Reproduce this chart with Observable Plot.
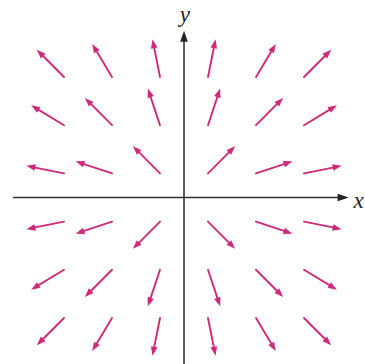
<!DOCTYPE html>
<html>
<head>
<meta charset="utf-8">
<script src="https://cdn.jsdelivr.net/npm/d3@7"></script>
<script src="https://cdn.jsdelivr.net/npm/@observablehq/plot@0.6"></script>
<style>
  html, body { margin: 0; padding: 0; background: #fff; }
  #chart svg { display: block; }
</style>
</head>
<body>
<div id="chart"></div>
<script>
// Tail positions of the arrows (data units)
const tailX = [
  -2.5, -1.5, -0.5, 0.5, 1.5, 2.5,
  -2.5, -1.5, -0.5, 0.5, 1.5, 2.5,
  -2.5, -1.5, -0.5, 0.5, 1.5, 2.5,
  -2.5, -1.5, -0.5, 0.5, 1.5, 2.5,
  -2.5, -1.5, -0.5, 0.5, 1.5, 2.5,
  -2.5, -1.5, -0.5, 0.5, 1.5, 2.5
];
const tailY = [
  2.5, 2.5, 2.5, 2.5, 2.5, 2.5,
  1.5, 1.5, 1.5, 1.5, 1.5, 1.5,
  0.5, 0.5, 0.5, 0.5, 0.5, 0.5,
  -0.5, -0.5, -0.5, -0.5, -0.5, -0.5,
  -1.5, -1.5, -1.5, -1.5, -1.5, -1.5,
  -2.5, -2.5, -2.5, -2.5, -2.5, -2.5
];
// Vector components (data units)
const vecU = [
  -0.566, -0.412, -0.157, 0.157, 0.412, 0.566,
  -0.686, -0.566, -0.253, 0.253, 0.566, 0.686,
  -0.784, -0.759, -0.566, 0.566, 0.759, 0.784,
  -0.784, -0.759, -0.566, 0.566, 0.759, 0.784,
  -0.686, -0.566, -0.253, 0.253, 0.566, 0.686,
  -0.566, -0.412, -0.157, 0.157, 0.412, 0.566
];
const vecV = [
  0.566, 0.686, 0.784, 0.784, 0.686, 0.566,
  0.412, 0.566, 0.759, 0.759, 0.566, 0.412,
  0.157, 0.253, 0.566, 0.566, 0.253, 0.157,
  -0.157, -0.253, -0.566, -0.566, -0.253, -0.157,
  -0.412, -0.566, -0.759, -0.759, -0.566, -0.412,
  -0.566, -0.686, -0.784, -0.784, -0.686, -0.566
];
const axisLabels = ["x", "y"];

const arrows = tailX.map((x, i) => ({
  x1: x, y1: tailY[i], x2: x + vecU[i], y2: tailY[i] + vecV[i],
  angle: Math.atan2(vecU[i], vecV[i]) * 180 / Math.PI
}));

const axes = [
  {x1: -3.55, y1: 0, x2: 3.43, y2: 0, angle: 90},
  {x1: 0, y1: -3.6, x2: 0, y2: 3.46, angle: 0}
];
const labels = [
  {x: 3.64, y: -0.06, text: axisLabels[0]},
  {x: 0.02, y: 3.8, text: axisLabels[1]}
];

const chart = Plot.plot({
  width: 365,
  height: 364,
  margin: 0,
  x: {domain: [-3.823, 3.781], axis: null},
  y: {domain: [-3.465, 4.087], axis: null},
  style: {background: "#fff"},
  marks: [
    Plot.arrow(axes, {x1: "x1", y1: "y1", x2: "x2", y2: "y2", stroke: "#333", strokeWidth: 1.6, headLength: 0, insetEnd: 6}),
    Plot.vector(axes, {x: "x2", y: "y2", rotate: "angle", length: 11, r: 3.8, shape: "spike", anchor: "end", fill: "#222", fillOpacity: 1, stroke: "none"}),
    Plot.arrow(arrows, {x1: "x1", y1: "y1", x2: "x2", y2: "y2", stroke: "#cf2a7a", strokeWidth: 1.9, headLength: 0, insetEnd: 5}),
    Plot.vector(arrows, {x: "x2", y: "y2", rotate: "angle", length: 9, r: 3.3, shape: "spike", anchor: "end", fill: "#cf2a7a", fillOpacity: 1, stroke: "none"}),
    Plot.text(labels, {x: "x", y: "y", text: "text", fontFamily: "Liberation Serif", fontStyle: "italic", fontSize: 23, fill: "#222"})
  ]
});
document.getElementById("chart").appendChild(chart);
</script>
</body>
</html>
